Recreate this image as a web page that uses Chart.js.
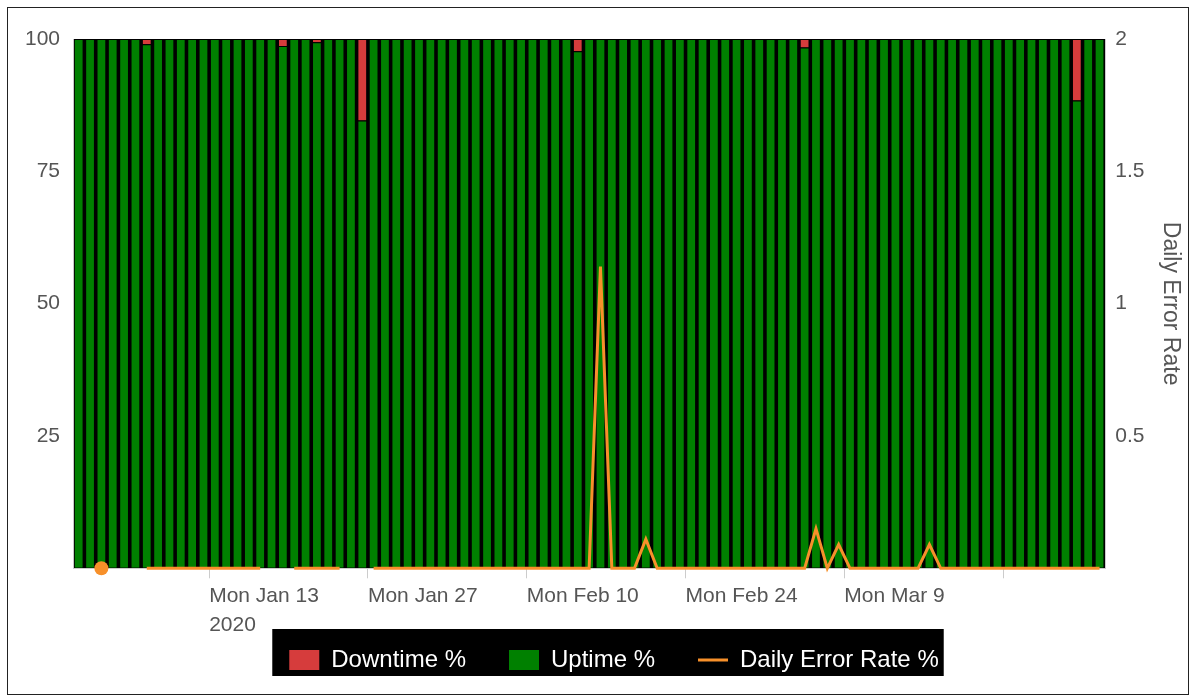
<!DOCTYPE html>
<html>
<head>
<meta charset="utf-8">
<script src="https://cdn.jsdelivr.net/npm/chart.js@4/dist/chart.umd.min.js"></script>
<style>
  body { margin: 0; background: #fff; }
  .wrap { position: absolute; left: 7px; top: 7px; width: 1180px; height: 686px; border: 1px solid #222; }
</style>
</head>
<body>
<div class="wrap"><canvas id="uptime-chart"></canvas></div>
<script>
// one bar per day, from Wed Jan 1 2020 (index 0) to Tue Mar 31 2020 (index 90)
const firstDay = "2020-01-01";

const downtime = [
  0, 0, 0, 0, 0, 0, 1.0, 0, 0, 0,
  0, 0, 0, 0, 0, 0, 0, 0, 1.3, 0,
  0, 0.6, 0, 0, 0, 15.4, 0, 0, 0, 0,
  0, 0, 0, 0, 0, 0, 0, 0, 0, 0,
  0, 0, 0, 0, 2.3, 0, 0, 0, 0, 0,
  0, 0, 0, 0, 0, 0, 0, 0, 0, 0,
  0, 0, 0, 0, 1.6, 0, 0, 0, 0, 0,
  0, 0, 0, 0, 0, 0, 0, 0, 0, 0,
  0, 0, 0, 0, 0, 0, 0, 0, 11.6, 0,
  0,
];

const uptime = [
  100, 100, 100, 100, 100, 100, 99.0, 100, 100, 100,
  100, 100, 100, 100, 100, 100, 100, 100, 98.7, 100,
  100, 99.4, 100, 100, 100, 84.6, 100, 100, 100, 100,
  100, 100, 100, 100, 100, 100, 100, 100, 100, 100,
  100, 100, 100, 100, 97.7, 100, 100, 100, 100, 100,
  100, 100, 100, 100, 100, 100, 100, 100, 100, 100,
  100, 100, 100, 100, 98.4, 100, 100, 100, 100, 100,
  100, 100, 100, 100, 100, 100, 100, 100, 100, 100,
  100, 100, 100, 100, 100, 100, 100, 100, 88.4, 100,
  100,
];

const errorRate = [
  null, null, 0, null, null, null, 0, 0, 0, 0,
  0, 0, 0, 0, 0, 0, 0, null, null, 0,
  0, 0, 0, 0, null, null, 0, 0, 0, 0,
  0, 0, 0, 0, 0, 0, 0, 0, 0, 0,
  0, 0, 0, 0, 0, 0, 1.14, 0, 0, 0,
  0.11, 0, 0, 0, 0, 0, 0, 0, 0, 0,
  0, 0, 0, 0, 0, 0.15, 0, 0.09, 0, 0,
  0, 0, 0, 0, 0, 0.09, 0, 0, 0, 0,
  0, 0, 0, 0, 0, 0, 0, 0, 0, 0,
  0,
];

// x-axis ticks (days after Jan 1, at midnight) and their labels
const tickDays = [12, 26, 40, 54, 68, 82];
const tickLabels = [["Mon Jan 13", "2020"], "Mon Jan 27", "Mon Feb 10", "Mon Feb 24", "Mon Mar 9", ""];

const leftTicks = [25, 50, 75, 100];
const rightTicks = [0.5, 1, 1.5, 2];

// bars sit at the middle of their day
const toPoints = (arr) => arr.map((v, i) => ({ x: i + 0.5, y: v }));

const font = "Arial, 'Liberation Sans', sans-serif";
const grey = "#555";
const axisOverlap = 38; // x labels reach into the legend's top padding
const legendShift = 14;

// black box behind the legend + black plot background (shows between bars)
const backdrop = {
  id: "backdrop",
  afterLayout(chart) {
    // give the label clip area its height back
    chart.scales.x.bottom += axisOverlap;
    chart.legend.left += legendShift;
    chart.legend.right += legendShift;
  },
  beforeDraw(chart) {
    const c = chart.ctx;
    const a = chart.chartArea;
    c.save();
    c.fillStyle = "#000";
    c.fillRect(a.left, a.top, a.right - a.left, a.bottom - a.top);
    const boxes = chart.legend.legendHitBoxes;
    if (boxes && boxes.length) {
      const l = Math.min(...boxes.map((b) => b.left));
      const r = Math.max(...boxes.map((b) => b.left + b.width));
      const t = Math.min(...boxes.map((b) => b.top));
      const btm = Math.max(...boxes.map((b) => b.top + b.height));
      c.fillRect(l - 17, t - 19, r - l + 22, btm - t + 23);
    }
    c.restore();
  },
};

const ctx = document.getElementById("uptime-chart");
const chart = new Chart(ctx, {
  type: "bar",
  data: {
    datasets: [
      {
        type: "line",
        label: "Daily Error Rate %",
        data: toPoints(errorRate),
        yAxisID: "yRight",
        borderColor: "#f7902a",
        backgroundColor: "#f7902a",
        borderWidth: 3,
        spanGaps: false,
        tension: 0,
        clip: false,
        order: 0,
        pointRadius: (c) => {
          const i = c.dataIndex;
          const isolated = errorRate[i] !== null && errorRate[i - 1] == null && errorRate[i + 1] == null;
          return isolated ? 7 : 0;
        },
        pointHoverRadius: 7,
        pointBorderWidth: 0,
      },
      {
        label: "Uptime %",
        data: toPoints(uptime),
        yAxisID: "y",
        backgroundColor: "#008000",
        borderColor: "#000",
        borderWidth: 1,
        barPercentage: 0.86,
        categoryPercentage: 1,
        order: 1,
      },
      {
        label: "Downtime %",
        data: toPoints(downtime),
        yAxisID: "y",
        backgroundColor: "#d63c3c",
        borderColor: "#000",
        borderWidth: 1,
        barPercentage: 0.86,
        categoryPercentage: 1,
        order: 2,
      },
    ],
  },
  options: {
    responsive: true,
    maintainAspectRatio: false,
    animation: false,
    layout: { padding: { left: 4, right: 0, top: 31, bottom: 12 } },
    font: { family: font },
    scales: {
      x: {
        type: "linear",
        offset: false,
        min: 0,
        max: 91,
        stacked: true,
        afterBuildTicks: (axis) => {
          axis.ticks = tickDays.map((d) => ({ value: d }));
        },
        afterFit: (axis) => {
          axis.height -= axisOverlap;
        },
        ticks: {
          autoSkip: false,
          maxRotation: 0,
          align: "start",
          color: grey,
          padding: 4,
          font: { family: font, size: 21, lineHeight: 1.35 },
          callback: (value) => {
            const k = tickDays.indexOf(value);
            return k >= 0 ? tickLabels[k] : "";
          },
        },
        grid: { offset: false, drawOnChartArea: false, tickLength: 10, color: "#ccc" },
        border: { color: "#ccc" },
      },
      y: {
        position: "left",
        stacked: true,
        min: 0,
        max: 100,
        afterBuildTicks: (axis) => {
          axis.ticks = [0, ...leftTicks].map((v) => ({ value: v }));
        },
        ticks: {
          color: grey,
          padding: 13,
          font: { family: font, size: 21 },
          callback: (v) => (v === 0 ? "" : v),
        },
        grid: { drawOnChartArea: false, drawTicks: false },
        border: { color: "#ccc" },
      },
      yRight: {
        position: "right",
        min: 0,
        max: 2,
        afterBuildTicks: (axis) => {
          axis.ticks = [0, ...rightTicks].map((v) => ({ value: v }));
        },
        ticks: {
          color: grey,
          padding: 10,
          font: { family: font, size: 21 },
          callback: (v) => (v === 0 ? "" : v),
        },
        grid: { drawOnChartArea: false, drawTicks: false },
        border: { color: "#ccc" },
        title: {
          display: true,
          text: "Daily Error Rate",
          color: grey,
          font: { family: font, size: 23 },
          padding: { top: 4, bottom: 2 },
        },
      },
    },
    plugins: {
      tooltip: { enabled: false },
      legend: {
        position: "bottom",
        labels: {
          color: "#fff",
          font: { family: font, size: 24 },
          usePointStyle: true,
          pointStyleWidth: 30,
          boxHeight: 20,
          padding: 43,
          generateLabels: (chart) =>
            [2, 1, 0].map((i) => {
              const ds = chart.data.datasets[i];
              const isLine = ds.type === "line";
              return {
                text: ds.label,
                datasetIndex: i,
                fillStyle: isLine ? "transparent" : ds.backgroundColor,
                strokeStyle: isLine ? ds.borderColor : ds.backgroundColor,
                lineWidth: isLine ? 3 : 0,
                pointStyle: isLine ? "line" : "rect",
                fontColor: "#fff",
                hidden: !chart.isDatasetVisible(i),
              };
            }),
        },
      },
    },
  },
  plugins: [backdrop],
});
</script>
</body>
</html>
